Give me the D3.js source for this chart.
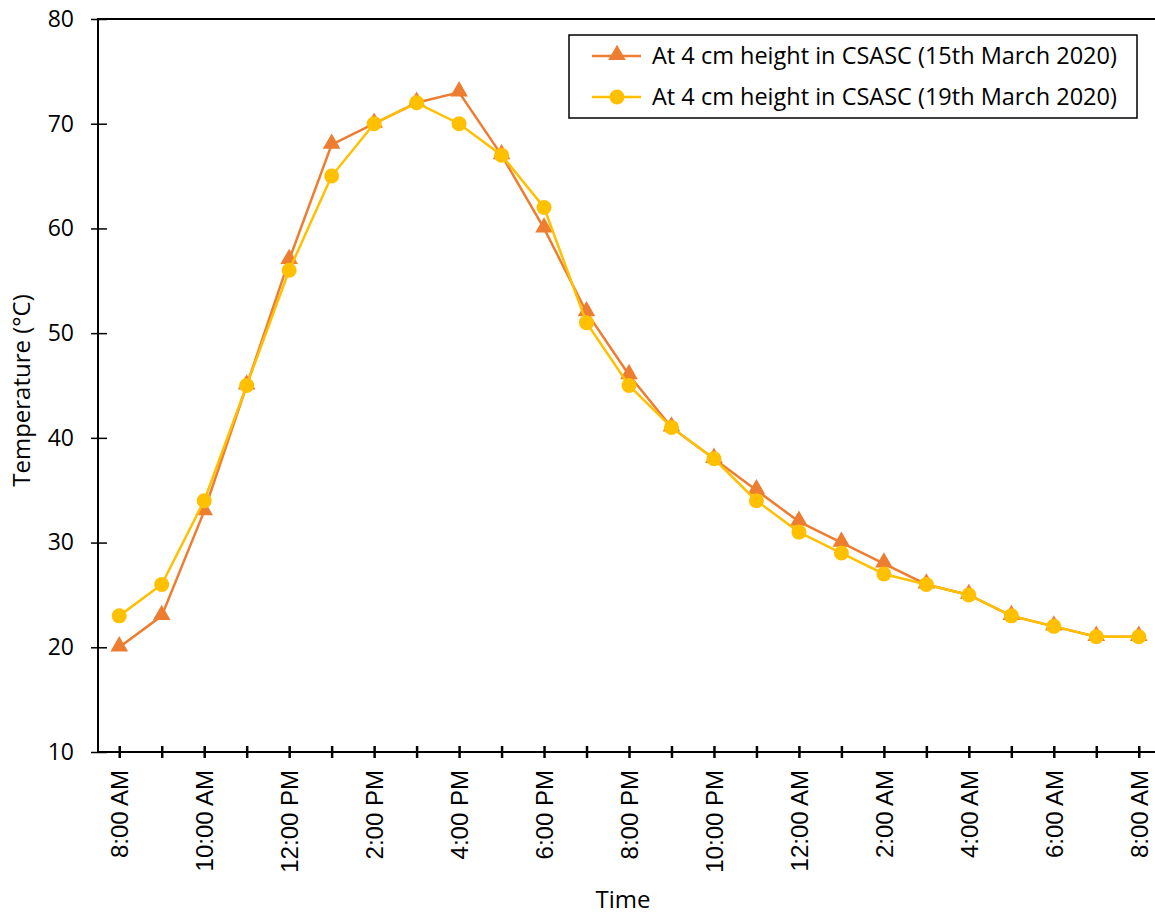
<!DOCTYPE html>
<html>
<head>
  <meta charset="utf-8">
  <title>Temperature at 4 cm height in CSASC</title>
  <script src="https://d3js.org/d3.v7.min.js"></script>
  <style>
    body { margin: 0; background: #fff; }
    svg { display: block; }
  </style>
</head>
<body>
  <svg width="1155" height="915"></svg>
  <script>
    // hourly readings, 8:00 AM to 8:00 AM next day
    var hours = ["8:00 AM", "9:00 AM", "10:00 AM", "11:00 AM", "12:00 PM", "1:00 PM", "2:00 PM", "3:00 PM",
      "4:00 PM", "5:00 PM", "6:00 PM", "7:00 PM", "8:00 PM", "9:00 PM", "10:00 PM", "11:00 PM",
      "12:00 AM", "1:00 AM", "2:00 AM", "3:00 AM", "4:00 AM", "5:00 AM", "6:00 AM", "7:00 AM", "8:00 AM"];
    var march15 = [20, 23, 33, 45, 57, 68, 70, 72, 73, 67, 60, 52, 46, 41, 38, 35, 32, 30, 28, 26, 25, 23, 22, 21, 21];
    var march19 = [23, 26, 34, 45, 56, 65, 70, 72, 70, 67, 62, 51, 45, 41, 38, 34, 31, 29, 27, 26, 25, 23, 22, 21, 21];
    var seriesNames = ["At 4 cm height in CSASC (15th March 2020)", "At 4 cm height in CSASC (19th March 2020)"];
    var yTicks = [10, 20, 30, 40, 50, 60, 70, 80];

    var svg = d3.select("svg");
    var plotLeft = 98, plotRight = 1160, plotTop = 19, plotBottom = 752;
    var textFont = "'Open Sans', sans-serif";

    var x = d3.scaleLinear().domain([-0.5, hours.length - 0.5]).range([plotLeft, plotRight]);
    var y = d3.scaleLinear().domain([10, 80]).range([plotBottom, plotTop]);

    // plot frame (right edge runs off the picture)
    svg.append("rect")
      .attr("x", plotLeft).attr("y", plotTop)
      .attr("width", plotRight - plotLeft).attr("height", plotBottom - plotTop)
      .attr("fill", "none").attr("stroke", "black").attr("stroke-width", 2);

    // y axis
    var yAxis = svg.append("g")
      .attr("transform", "translate(" + plotLeft + ",0)")
      .call(d3.axisLeft(y).tickValues(yTicks).tickSize(7).tickPadding(17));
    yAxis.select(".domain").remove();
    yAxis.selectAll(".tick line").attr("x2", 9).attr("x1", -7).attr("stroke-width", 1.5);
    yAxis.selectAll(".tick text")
      .style("font-family", textFont).style("font-size", "23px").attr("fill", "black");

    // x axis
    var xAxis = svg.append("g")
      .attr("transform", "translate(0," + plotBottom + ")")
      .call(d3.axisBottom(x).tickValues(d3.range(hours.length))
        .tickFormat(function (i) { return i % 2 === 0 ? hours[i] : ""; }));
    xAxis.select(".domain").remove();
    xAxis.selectAll(".tick line").attr("y1", -6).attr("y2", 6).attr("stroke-width", 2.5);
    xAxis.selectAll(".tick text")
      .attr("transform", "rotate(-90)")
      .attr("text-anchor", "end")
      .attr("x", -18).attr("y", 0).attr("dy", "0.35em")
      .style("font-family", "'Liberation Sans', Arial, sans-serif")
      .style("font-size", "24px").attr("fill", "black");

    // axis titles
    svg.append("text")
      .attr("transform", "translate(30," + ((plotTop + plotBottom) / 2 + 5) + ") rotate(-90)")
      .attr("text-anchor", "middle")
      .style("font-family", textFont).style("font-size", "24px")
      .text("Temperature (°C)");
    svg.append("text")
      .attr("x", 623).attr("y", 908)
      .attr("text-anchor", "middle")
      .style("font-family", textFont).style("font-size", "24px")
      .text("Time");

    var colors = ["#ED7D31", "#FFC000"];
    var line = d3.line()
      .x(function (d, i) { return x(i); })
      .y(function (d) { return y(d); });
    var triangle = d3.symbol().type(d3.symbolTriangle).size(135);

    // 15th March: orange triangles
    svg.append("path")
      .datum(march15)
      .attr("fill", "none").attr("stroke", colors[0]).attr("stroke-width", 2.5)
      .attr("d", line);
    svg.selectAll(".tri")
      .data(march15)
      .enter().append("path")
      .attr("class", "tri")
      .attr("transform", function (d, i) { return "translate(" + x(i) + "," + (y(d) - 1) + ")"; })
      .attr("d", triangle)
      .attr("fill", colors[0]);

    // 19th March: yellow circles
    svg.append("path")
      .datum(march19)
      .attr("fill", "none").attr("stroke", colors[1]).attr("stroke-width", 2.5)
      .attr("d", line);
    svg.selectAll(".dot")
      .data(march19)
      .enter().append("circle")
      .attr("class", "dot")
      .attr("cx", function (d, i) { return x(i); })
      .attr("cy", function (d) { return y(d); })
      .attr("r", 7.5)
      .attr("fill", colors[1]);

    // legend
    var legend = svg.append("g");
    legend.append("rect")
      .attr("x", 569).attr("y", 35).attr("width", 568).attr("height", 83)
      .attr("fill", "white").attr("stroke", "black").attr("stroke-width", 1.5);
    seriesNames.forEach(function (name, k) {
      var ly = 56 + k * 41;
      legend.append("line")
        .attr("x1", 592).attr("x2", 641).attr("y1", ly).attr("y2", ly)
        .attr("stroke", colors[k]).attr("stroke-width", 2.5);
      if (k === 0) {
        legend.append("path")
          .attr("transform", "translate(617," + (ly - 1) + ")")
          .attr("d", triangle).attr("fill", colors[k]);
      } else {
        legend.append("circle")
          .attr("cx", 617).attr("cy", ly).attr("r", 7.5).attr("fill", colors[k]);
      }
      legend.append("text")
        .attr("x", 652).attr("y", ly).attr("dy", "0.35em")
        .style("font-family", textFont).style("font-size", "23.5px")
        .text(name);
    });
  </script>
</body>
</html>
